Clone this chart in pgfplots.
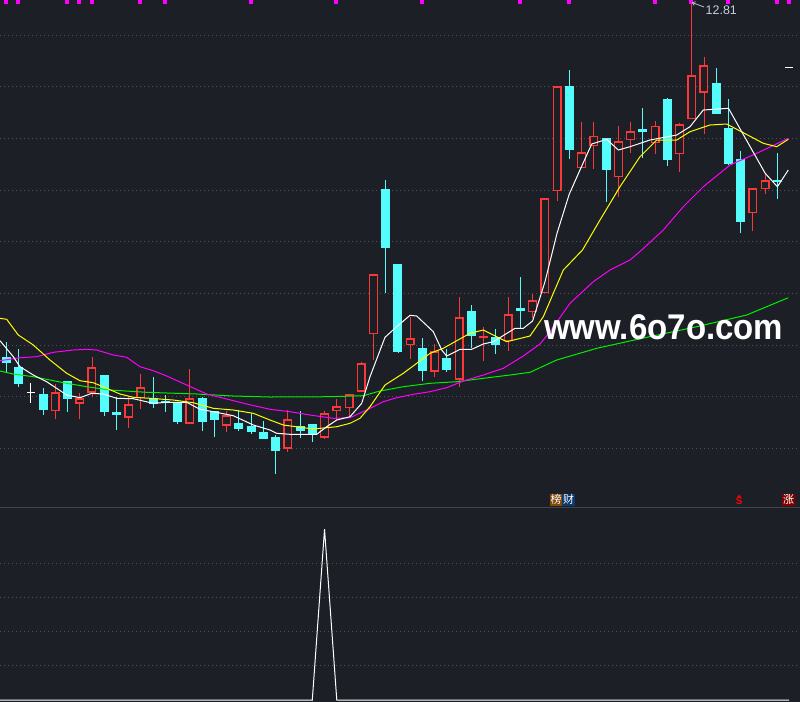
\documentclass[border=0pt]{standalone}
\usepackage{pgfplots}
\pgfplotsset{compat=1.18}
\usepackage{graphicx}
\usepackage{fontspec}
\setmainfont{Liberation Sans}
\newfontfamily\cjk{Noto Sans CJK SC}
\usetikzlibrary{arrows.meta}
\definecolor{bgc}{RGB}{28,31,38}
\definecolor{gridc}{RGB}{78,82,90}
\definecolor{divc}{RGB}{66,69,77}
\definecolor{cyanc}{RGB}{84,252,252}
\definecolor{redc}{RGB}{250,56,56}
\definecolor{mayel}{RGB}{255,255,0}
\definecolor{mamag}{RGB}{255,0,255}
\definecolor{magrn}{RGB}{0,240,0}
\definecolor{labc}{RGB}{195,208,228}
\definecolor{brownc}{RGB}{128,74,10}
\definecolor{bluec}{RGB}{12,58,108}
\definecolor{dredc}{RGB}{128,0,0}
% candle macros: x, high, body top, body bottom, low  (pixel rows, axis reversed)
\newcommand{\cy}[5]{%
  \addplot[cyanc, line width=0.9bp] coordinates {(#1,#2) (#1,#5)};
  \addplot[cyanc, line width=9bp] coordinates {(#1,#3) (#1,#4)};
}
\newcommand{\rd}[5]{%
  \addplot[redc, line width=0.9bp] coordinates {(#1,#2) (#1,#5)};
  \addplot[redc, line width=9bp] coordinates {(#1,#3) (#1,#4)};
  \pgfmathsetmacro\ta{#3+1.3}\pgfmathsetmacro\tb{#4-1.3}%
  \edef\tmpplot{\noexpand\addplot[bgc, line width=6.4bp] coordinates {(#1,\ta) (#1,\tb)};}\tmpplot
}
\newcommand{\rdf}[5]{%
  \addplot[redc, line width=0.9bp] coordinates {(#1,#2) (#1,#5)};
  \addplot[redc, line width=9bp] coordinates {(#1,#3) (#1,#4)};
}
\newcommand{\wt}[5]{%
  \addplot[white, line width=0.9bp] coordinates {(#1,#2) (#1,#5)};
  \addplot[white, line width=8bp] coordinates {(#1,#3) (#1,#4)};
}
\begin{document}
\begin{tikzpicture}
\fill[bgc] (0,0) rectangle (800bp,-702bp);
\begin{axis}[at={(0,0)}, anchor=north west, scale only axis,
  width=800bp, height=507bp, xmin=0, xmax=800, ymin=0, ymax=507, y dir=reverse,
  axis line style={draw=none}, tick style={draw=none}, major tick length=0,
  xtick=\empty, ytick={35,86.7,138.3,190,241.7,293.3,345,396.7,448.3}, yticklabels={},
  ymajorgrids, major grid style={gridc, line width=0.8bp, dash pattern=on 0.8bp off 3.2bp}]
\cy{6.3}{342}{357.3}{362.7}{373.3}
\cy{18.54}{349}{367}{383.7}{386.7}
\wt{30.78}{383.3}{391.8}{392.8}{402.7}
\cy{43.02}{388}{394}{410}{414.7}
\rd{55.26}{384.3}{392.3}{411.3}{419}
\cy{67.5}{381}{381}{398.7}{412}
\rd{79.74}{393.3}{398.3}{403.7}{418.7}
\rd{91.98}{357}{367.3}{392.7}{397.3}
\cy{104.22}{375.3}{375.3}{412}{415.7}
\cy{116.46}{397.3}{412}{414.7}{430}
\rd{128.7}{396.7}{404.3}{417.7}{428}
\rd{140.94}{374}{387.3}{398.3}{409}
\cy{153.18}{377}{398.3}{404}{407.7}
\cy{165.42}{395.3}{401}{402.5}{412}
\cy{177.66}{403.3}{403.3}{422}{423.7}
\rd{189.9}{369}{398.3}{423.7}{423.7}
\cy{202.14}{396.7}{398.3}{422}{431}
\cy{214.38}{411.3}{411.3}{420}{437}
\rd{226.62}{411.3}{415.3}{425.7}{432}
\cy{238.86}{410}{423}{429}{431}
\cy{251.1}{413.3}{426}{432}{434}
\cy{263.34}{421}{432}{439}{439}
\cy{275.58}{435}{437}{451}{474}
\rd{287.82}{410}{419.3}{448.7}{452}
\cy{300.06}{411.3}{426.3}{431}{437.7}
\cy{312.3}{424}{424}{435.3}{441.7}
\rd{324.54}{411.3}{413.3}{437.7}{439}
\rd{336.78}{399}{406.3}{411.3}{420.7}
\rd{349.02}{394}{394.3}{408.3}{415.7}
\rd{361.26}{362}{363.3}{391.7}{391.7}
\rd{373.5}{273.5}{274.3}{334.3}{360}
\cy{385.74}{180}{189}{247.7}{292.7}
\cy{397.98}{264}{264}{351.7}{353.3}
\rd{410.22}{317.3}{338.3}{345.3}{358.7}
\cy{422.46}{338}{348}{370.7}{380.7}
\rd{434.7}{344.3}{351.3}{371.7}{376.7}
\cy{446.94}{349}{358}{370}{371.7}
\rd{459.18}{297.3}{317.3}{379.7}{386.7}
\cy{471.42}{305}{311}{336}{348.3}
\rdf{483.66}{327}{336}{337.7}{360.7}
\cy{495.9}{329}{337}{344.7}{353.7}
\rd{508.14}{297.3}{314.3}{341.3}{350.7}
\cy{520.38}{277.3}{308.3}{310.7}{328.3}
\rd{532.62}{294}{300.3}{312.3}{318}
\rd{544.86}{198.3}{198.3}{293.3}{293.3}
\rd{557.1}{86.3}{86.3}{191.3}{200.7}
\cy{569.34}{70}{86}{149.7}{159}
\rd{581.58}{122}{152.3}{168.3}{168.3}
\rd{593.82}{122}{136}{146.3}{168.7}
\cy{606.06}{138}{138}{169.7}{201.7}
\rd{618.3}{126}{141.3}{177.3}{196.7}
\rd{630.54}{121.7}{131.3}{140.3}{152.7}
\cy{642.78}{108}{129}{131.7}{158}
\rd{655.02}{121}{125.7}{143.3}{154}
\cy{667.26}{97.7}{99}{159.7}{166.3}
\rd{679.5}{123.3}{124.3}{154.3}{171.7}
\rd{691.74}{1.7}{75.3}{119.3}{119.3}
\rd{703.98}{57}{65.3}{92.7}{133.7}
\cy{716.22}{68}{83}{114}{114}
\cy{728.46}{99}{128.3}{163.7}{165}
\cy{740.7}{151}{159.3}{221.7}{232.7}
\rd{752.94}{188.3}{188.3}{213.3}{230.7}
\rd{765.18}{173.3}{180.3}{189.3}{194.3}
\cy{777.42}{153}{180}{182}{199}
% MA60 green
\addplot[magrn, line width=1bp] coordinates {(0,371) (13.3,374) (33.3,376.7) (50,380) (66.7,383.3) (86.7,386.7) (110,390) (146.7,392.3) (196.7,394) (233.3,396) (270,397) (330,396.7) (363.3,395.7) (380,391) (403.3,386.7) (430,383.3) (456.7,381.7) (483.3,378.3) (510,375) (530,372.3) (556.7,360) (596.7,348.3) (646.7,337.3) (696.7,326.7) (746.7,315) (788.3,297.7)};
% MA20 magenta
\addplot[mamag, line width=1bp] coordinates {(0,360.7) (20,357.7) (36.7,356.7) (53.3,352.3) (73.3,350) (86.7,349.3) (96.7,350) (113.3,355) (126.7,357.3) (140,366.7) (153.3,370.7) (166.7,376) (186.7,385) (206.7,394) (226.7,399) (246.7,404) (270,409.3) (290,411.7) (310,415) (333.3,418.3) (350,417.7) (366.7,410) (383.3,401.7) (396.7,397.7) (413.3,394.3) (430,391.7) (446.7,387.7) (463.3,381) (483.3,375) (503.3,368.3) (523.3,356) (540,344) (550,331.7) (570,303.3) (593.3,281.7) (610,270) (630,260) (641.7,250) (663.3,230) (683.3,206.7) (703.3,186.7) (730,165) (756.7,153.3) (788.3,138.3)};
% MA10 yellow
\addplot[mayel, line width=1bp] coordinates {(0,318.3) (6.7,319.3) (18.3,335) (33.3,345) (50,360) (66.7,373.3) (80,380.7) (93.3,382.7) (106.7,388.3) (120,394) (133.3,397.3) (150,398.3) (173.3,400) (193.3,402.7) (213.3,408.3) (233.3,410) (253.3,413.3) (270,420) (283.3,425) (313.3,429) (336.7,426.7) (350,423.3) (360,418.3) (370,406.7) (385,385) (403.3,373.3) (416.7,363.3) (430,353.3) (443.3,348.3) (456.7,340.7) (470,333.3) (483.3,330) (506.7,341.7) (530,336) (543.3,316.7) (563.3,270) (582.5,250) (600,220) (620,186.7) (640,156.7) (656.7,140) (676.7,140) (690,131.7) (710,125) (726.7,124) (743.3,132.7) (763.3,143.3) (776.7,146.7) (788.3,139.3)};
% MA5 white
\addplot[white, line width=1bp] coordinates {(0,340.7) (13.3,356.7) (20,366.7) (33.3,375) (46.7,381.7) (66.7,395) (80,397.7) (91.7,393.3) (103.3,394) (116.7,398.3) (133.3,398.7) (153.3,403.3) (166.7,402.3) (186.7,402.3) (200,409.3) (213.3,411.7) (233.3,415.7) (253.3,425) (270,430) (276.7,433.3) (290,434.3) (316.7,434.3) (326.7,426.7) (336.7,420) (350,416.7) (361.7,403.3) (370,376.7) (385,337.3) (396.7,326.7) (410,315.3) (416.7,316) (433.3,331.7) (441.7,350) (446.7,356) (460,349.3) (471.7,349.3) (483.3,344) (493.3,341.7) (515,328.3) (523.3,328.3) (532.6,321) (544.9,282) (557.1,233) (569.3,194) (580,170) (591.7,144) (606.7,139.3) (618.3,150) (630,146.7) (650,140) (676.7,135) (690,126.7) (703.3,110) (728.5,108.3) (765.2,173.3) (777.4,186.7) (788.3,170)};
% signal marks at top
\addplot[only marks, mark=square*, mark size=1.5bp, mamag] coordinates {(5.3,1.5) (17.3,1.5) (66.3,1.5) (78.3,1.5) (91.3,1.5) (139.3,1.5) (164.3,1.5) (250.3,1.5) (335.3,1.5) (421.3,1.5) (519.3,1.5) (568.3,1.5) (654.3,1.5) (690.7,1.5) (727.3,1.5) (776.7,1.5) (788.3,1.5)};
% last price dash
\addplot[white, line width=1bp] coordinates {(785,67.3) (793,67.3)};
\end{axis}
\draw[divc, line width=1.2bp] (0,-507.3bp) -- (800bp,-507.3bp);
\begin{axis}[at={(0,-507bp)}, anchor=north west, scale only axis,
  width=800bp, height=195bp, xmin=0, xmax=800, ymin=-0.0585, ymax=5.65,
  axis line style={draw=none}, tick style={draw=none}, major tick length=0,
  xtick=\empty, ytick={1,2,3,4}, yticklabels={},
  ymajorgrids, major grid style={gridc, line width=0.8bp, dash pattern=on 0.8bp off 3.2bp}]
\addplot[white, line width=1bp] coordinates {(0,0) (312.3,0) (324.54,5) (336.78,0) (789,0)};
\end{axis}
% annotations
\draw[labc, line width=0.7bp, -{Straight Barb[length=2.5bp,width=4bp]}] (704bp,-7bp) -- (692bp,-2.5bp);
\node[anchor=west, inner sep=0, text=labc, font=\fontsize{12.5}{13}\selectfont] at (705.5bp,-9.8bp) {12.81};
\node[anchor=base west, inner sep=0, text=white] at (544bp,-339.5bp) {\scalebox{1.035}[1.12]{\fontsize{32}{32}\selectfont\bfseries www.6o7o.com}};
\node[anchor=north west, inner sep=0, minimum width=11.7bp, minimum height=12.4bp, fill=brownc, text=white, font=\cjk\fontsize{11}{11}\selectfont] at (550bp,-493.3bp) {榜};
\node[anchor=north west, inner sep=0, minimum width=13.3bp, minimum height=12.4bp, fill=bluec, text=white, font=\cjk\fontsize{11}{11}\selectfont] at (561.7bp,-493.3bp) {财};
\node[anchor=north west, inner sep=0, minimum width=13bp, minimum height=12.4bp, fill=dredc, text=white, font=\cjk\fontsize{11}{11}\selectfont] at (782bp,-493.3bp) {涨};
\fill[red] (737.2bp,-497.3bp) -- (741.2bp,-497.3bp) -- (739.2bp,-494.5bp) -- cycle;
\node[anchor=north, inner sep=0, text=red, font=\fontsize{10}{10}\selectfont\bfseries] at (739.2bp,-497.8bp) {S};
\pgfresetboundingbox
\path[use as bounding box] (0,0) rectangle (800bp,-702bp);
\end{tikzpicture}
\end{document}
